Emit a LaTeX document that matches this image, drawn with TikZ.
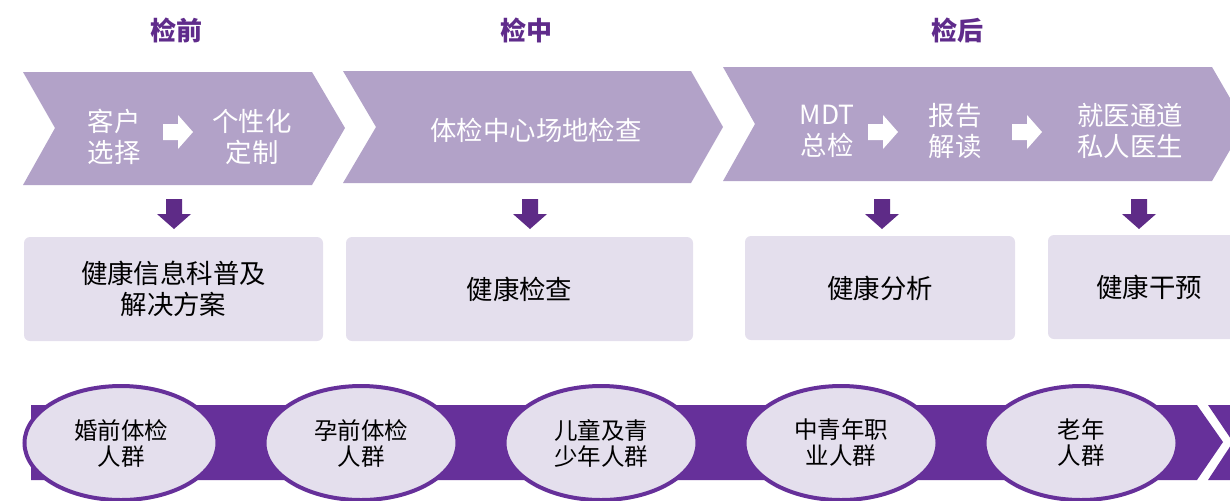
\documentclass[tikz,border=0pt]{standalone}
\usepackage{fontspec}
\setmainfont{Noto Sans CJK SC}
\usetikzlibrary{shapes.geometric}
\definecolor{chevlilac}{HTML}{B2A2C8}
\definecolor{cardlav}{HTML}{E4DFED}
\definecolor{deeppurple}{HTML}{5E2B87}
\definecolor{bandpurple}{HTML}{66309A}
\definecolor{headpurple}{HTML}{5F2B8B}
\newcommand\sinkarrow[1]{\fill[deeppurple] (#1-8,199) -- (#1+8,199) -- (#1+8,214) -- (#1+17,214) -- (#1,229) -- (#1-17,214) -- (#1-8,214) -- cycle;}
\newcommand\nextarrow[2]{\fill[white] (#1-15,#2-8) -- (#1,#2-8) -- (#1,#2-17) -- (#1+15,#2) -- (#1,#2+17) -- (#1,#2+8) -- (#1-15,#2+8) -- cycle;}

\begin{document}
\begin{tikzpicture}[x=0.5pt,y=-0.5pt,
    head/.style={text=headpurple,font=\fontsize{13pt}{15pt}\selectfont\bfseries},
    chevtxt/.style={text=white,align=center,font=\fontsize{13.2pt}{15.5pt}\selectfont},
    card/.style={fill=cardlav,rounded corners=3pt,minimum height=52pt,align=center,font=\fontsize{13.2pt}{15.5pt}\selectfont},
    group/.style={ellipse,draw=bandpurple,line width=2pt,fill=cardlav,minimum width=96.5pt,minimum height=57pt,inner sep=0pt,align=center,font=\fontsize{11.75pt}{13pt}\selectfont}]
  \useasboundingbox (0,0) rectangle (1230,500);
  \clip (0,0) rectangle (1230,500);
  % stage headings
  \node[head] (pre) at (176,30) {检前};
  \node[head] (mid) at (526,30) {检中};
  \node[head] (post) at (957,30) {检后};
  % chevrons
  \fill[chevlilac] (23,72) -- (312,72) -- (345,128) -- (312,185) -- (23,185) -- (55,128) -- cycle;
  \fill[chevlilac] (343,71) -- (691,71) -- (723,127) -- (691,183) -- (343,183) -- (376,127) -- cycle;
  \fill[chevlilac] (723,67) -- (1212,67) -- (1245,124) -- (1212,181) -- (723,181) -- (755,124) -- cycle;
  \node[chevtxt] (choose) at (114,137) {客户\\选择};
  \nextarrow{178}{132}
  \node[chevtxt] (custom) at (252,137) {个性化\\定制};
  \node[chevtxt] (site) at (536,130) {体检中心场地检查};
  \node[chevtxt] (mdt) at (827,131) {MDT\\总检};
  \nextarrow{883}{132}
  \node[chevtxt] (report) at (955,131) {报告\\解读};
  \nextarrow{1027}{132}
  \node[chevtxt] (doctor) at (1130,131) {就医通道\\私人医生};
  % down arrows
  \sinkarrow{174}
  \sinkarrow{530}
  \sinkarrow{882}
  \sinkarrow{1139}
  % cards
  \node[card,minimum width=149.5pt] (edu) at (173.5,289) {健康信息科普及\\解决方案};
  \node[card,minimum width=173.5pt] (check) at (519.5,289) {健康检查};
  \node[card,minimum width=135pt] (analyse) at (880,288) {健康分析};
  \node[card,minimum width=101pt] (care) at (1149,287) {健康干预};
  % band
  \fill[bandpurple] (31,405) -- (1197,405) -- (1223,442) -- (1197,480) -- (31,480) -- cycle;
  \fill[bandpurple] (1208,405) -- (1240,405) -- (1240,480) -- (1208,480) -- (1233,442) -- cycle;
  \node[group] (wed) at (121,443) {婚前体检\\人群};
  \node[group] (preg) at (361,443) {孕前体检\\人群};
  \node[group] (kids) at (601,443) {儿童及青\\少年人群};
  \node[group] (work) at (841,443) {中青年职\\业人群};
  \node[group] (old) at (1081,443) {老年\\人群};
\end{tikzpicture}
\end{document}
